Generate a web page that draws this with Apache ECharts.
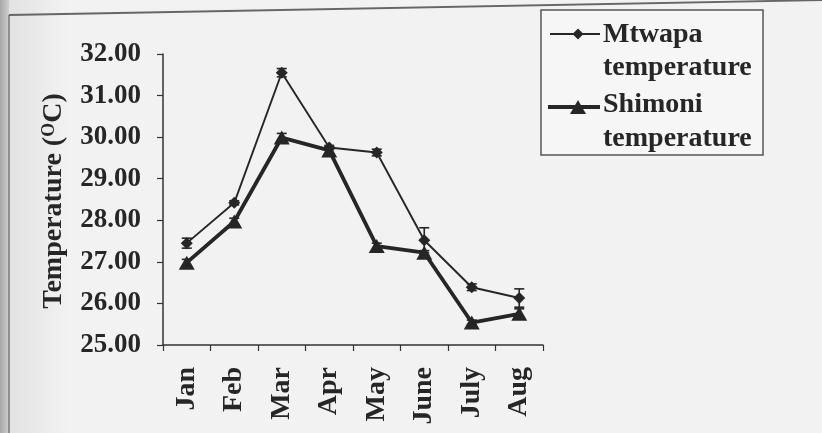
<!DOCTYPE html>
<html>
<head>
<meta charset="utf-8">
<script src="https://cdn.jsdelivr.net/npm/echarts@6/dist/echarts.min.js"></script>
<style>html,body{margin:0;padding:0;background:#f2f2f2;}#c{width:822px;height:433px;}</style>
</head>
<body>
<div id="c"></div>
<script>
var months = ['Jan','Feb','Mar','Apr','May','June','July','Aug'];
var mtwapa = [27.45, 28.42, 31.55, 29.75, 29.63, 27.52, 26.39, 26.13];
var mtwapaErr = [0.12, 0.05, 0.10, 0.05, 0.08, 0.30, 0.08, 0.22];
var shimoni = [26.98, 27.97, 29.99, 29.68, 27.38, 27.22, 25.54, 25.75];
var shimoniErr = [0.08, 0.08, 0.10, 0.08, 0.07, 0.05, 0.06, 0.12];
var yTicks = ['25.00','26.00','27.00','28.00','29.00','30.00','31.00','32.00'];

var FONT = 'Liberation Serif';
var INK = '#262626';

function errData(vals, errs) {
  return vals.map(function (v, i) { return [i, v - errs[i], v + errs[i]]; });
}
function errRender(cap, lw) {
  return function (params, api) {
    var x = api.value(0);
    var lo = api.coord([x, api.value(1)]);
    var hi = api.coord([x, api.value(2)]);
    return {
      type: 'group',
      children: [
        {type: 'line', shape: {x1: lo[0], y1: lo[1], x2: hi[0], y2: hi[1]}, style: {stroke: INK, lineWidth: lw}},
        {type: 'line', shape: {x1: lo[0] - cap, y1: lo[1], x2: lo[0] + cap, y2: lo[1]}, style: {stroke: INK, lineWidth: lw}},
        {type: 'line', shape: {x1: hi[0] - cap, y1: hi[1], x2: hi[0] + cap, y2: hi[1]}, style: {stroke: INK, lineWidth: lw}}
      ]
    };
  };
}

var chart = echarts.init(document.getElementById('c'), null, {renderer: 'canvas'});
chart.setOption({
  backgroundColor: '#f2f2f2',
  animation: false,
  grid: {left: 163, right: 279, top: 54, bottom: 88, containLabel: false},
  xAxis: {
    type: 'category',
    data: months,
    boundaryGap: true,
    axisLine: {lineStyle: {color: '#333', width: 1.5}},
    axisTick: {show: true, length: 6, lineStyle: {color: '#333', width: 1.2}},
    axisLabel: {rotate: 90, margin: 22, fontFamily: FONT, fontWeight: 'bold', fontSize: 28, color: INK}
  },
  yAxis: {
    type: 'value',
    min: 25, max: 32, interval: 1,
    splitLine: {show: false},
    axisLine: {show: true, lineStyle: {color: '#333', width: 1.5}},
    axisTick: {show: true, length: 6, lineStyle: {color: '#333', width: 1.2}},
    axisLabel: {
      margin: 22, fontFamily: FONT, fontWeight: 'bold', fontSize: 27, color: INK,
      formatter: function (v) { return yTicks[Math.round(v - 25)]; }
    }
  },
  series: [
    {
      name: 'Mtwapa temperature', type: 'line', data: mtwapa,
      symbol: 'diamond', symbolSize: 12,
      lineStyle: {color: INK, width: 1.9},
      itemStyle: {color: INK},
      z: 3
    },
    {
      name: 'Shimoni temperature', type: 'line', data: shimoni,
      symbol: 'triangle', symbolSize: [16, 14],
      lineStyle: {color: INK, width: 3.8},
      itemStyle: {color: INK},
      z: 4
    },
    {type: 'custom', data: errData(mtwapa, mtwapaErr), renderItem: errRender(5, 1.6), z: 5, encode: {x: 0, y: [1, 2]}},
    {type: 'custom', data: errData(shimoni, shimoniErr), renderItem: errRender(5, 1.6), z: 5, encode: {x: 0, y: [1, 2]}}
  ],
  graphic: [
    {type: 'rect', left: 0, top: 0, shape: {width: 9, height: 433}, z: -10,
     style: {fill: new echarts.graphic.LinearGradient(0, 0, 1, 0, [{offset: 0, color: '#a8a8a8'}, {offset: 1, color: '#cfcfcf'}])}},
    {type: 'rect', left: 9, top: 0, shape: {width: 60, height: 433}, z: -10,
     style: {fill: new echarts.graphic.LinearGradient(0, 0, 1, 0, [{offset: 0, color: '#e2e2e2'}, {offset: 1, color: '#f2f2f2'}])}},
    {type: 'line', shape: {x1: 9, y1: 15, x2: 9, y2: 433}, style: {stroke: '#777', lineWidth: 1.5}, z: -5},
    {type: 'line', shape: {x1: 9, y1: 15, x2: 822, y2: 0}, style: {stroke: '#666', lineWidth: 1.8}, z: -5},
    {
      type: 'text', x: 54, y: 201, rotation: Math.PI / 2,
      style: {
        text: 'Temperature ({s|O}C)',
        fontFamily: FONT, fontWeight: 'bold', fontSize: 28, fill: INK,
        align: 'center', verticalAlign: 'middle',
        rich: {s: {fontFamily: FONT, fontWeight: 'bold', fontSize: 18, fill: INK, verticalAlign: 'top', padding: [0, 0, 10, 0]}}
      }
    },
    {type: 'rect', shape: {x: 541, y: 10, width: 222, height: 145}, style: {fill: '#f6f6f6', stroke: '#555', lineWidth: 1.5}, z: 10},
    {type: 'line', shape: {x1: 550, y1: 34, x2: 600, y2: 34}, style: {stroke: INK, lineWidth: 1.9}, z: 11},
    {type: 'polygon', shape: {points: [[578, 28.5], [583.5, 34], [578, 39.5], [572.5, 34]]}, style: {fill: INK}, z: 11},
    {type: 'line', shape: {x1: 548, y1: 107, x2: 600, y2: 107}, style: {stroke: INK, lineWidth: 3.8}, z: 11},
    {type: 'polygon', shape: {points: [[578, 100], [586, 114], [570, 114]]}, style: {fill: INK}, z: 11},
    {type: 'text', x: 603, y: 35, style: {text: 'Mtwapa', fontFamily: FONT, fontWeight: 'bold', fontSize: 28, fill: INK, verticalAlign: 'middle'}, z: 11},
    {type: 'text', x: 603, y: 68, style: {text: 'temperature', fontFamily: FONT, fontWeight: 'bold', fontSize: 28, fill: INK, verticalAlign: 'middle'}, z: 11},
    {type: 'text', x: 603, y: 105, style: {text: 'Shimoni', fontFamily: FONT, fontWeight: 'bold', fontSize: 28, fill: INK, verticalAlign: 'middle'}, z: 11},
    {type: 'text', x: 603, y: 139, style: {text: 'temperature', fontFamily: FONT, fontWeight: 'bold', fontSize: 28, fill: INK, verticalAlign: 'middle'}, z: 11}
  ]
});
</script>
</body>
</html>
